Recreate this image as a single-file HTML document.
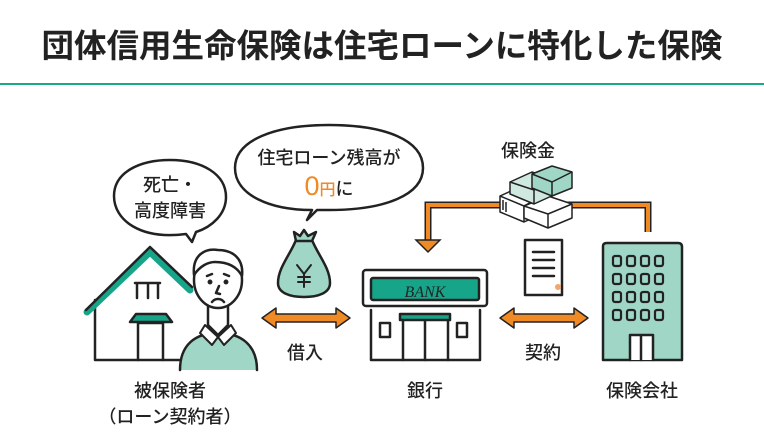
<!DOCTYPE html>
<html><head><meta charset="utf-8"><style>
html,body{margin:0;padding:0;background:#fff;}
svg{display:block;}
text{font-family:"Liberation Sans","Noto Sans CJK JP",sans-serif;fill:#222;}
</style></head><body>
<svg width="764" height="442" viewBox="0 0 764 442" xmlns="http://www.w3.org/2000/svg">
<text x="382" y="57" font-size="32.5" font-weight="bold" text-anchor="middle">団体信用生命保険は住宅ローンに特化した保険</text>
<rect x="0" y="83" width="764" height="2" fill="#1aa88a"/>

<g stroke="#222" stroke-width="2.5" fill="none" stroke-linecap="round" stroke-linejoin="round">
<path d="M95 300 V360 H185"/>
<path d="M87 312 L150 252 L190 290" stroke="#17a58a" stroke-width="7"/>
<path d="M86 310 L150 247 L192 287"/>
<path d="M135 283 H160 M137 283 V298 M158 283 V298 M148 283 V298"/>
<path d="M138 323 V360 M163 323 V360 M138 323 H163"/>
<path d="M130 322 L136 314 H166 L172 322 Z" fill="#17a58a"/>
<path d="M180 370 C180 345 195 333 218 333 C241 333 257 345 257 370" fill="#9fd6c6"/>
<path d="M208 305 V325 L218 335 L228 325 V305" fill="#fff"/>
<path d="M205 325 L218 337 L212 345 L200 333 Z M231 325 L218 337 L224 345 L236 333 Z" fill="#fff" stroke-width="2"/>
<ellipse cx="218" cy="280" rx="24" ry="28" fill="#fff"/>
<path d="M194 275 C192 255 205 248 218 250 C232 250 244 258 242 276 C236 265 225 262 215 262 C208 262 200 266 194 275Z" fill="#fff"/>
<path d="M207 276 L212 274 M224 274 L229 276"/>
<circle cx="210" cy="282" r="1.2" fill="#222"/><circle cx="226" cy="282" r="1.2" fill="#222"/>
<path d="M219 286 L216 293 L220 294"/>
<path d="M212 302 C215 298 221 298 224 302"/>
<path d="M186 234 C140 240 114 220 114 196 C114 172 140 160 170 160 C202 160 226 174 226 197 C226 214 212 227 196 232 L192 242 L186 234 Z" fill="#fff"/>
<path d="M312 210 C270 210 235 195 235 168 C235 140 275 125 329 125 C385 125 423 140 423 168 C423 195 385 210 329 210 L317 210 L307 220 L312 210Z" fill="#fff"/>
<path d="M296 240 C290 255 278 268 278 283 C278 293 290 297 304 297 C318 297 330 293 330 283 C330 268 318 255 312 240 Z" fill="#9fd6c6"/>
<path d="M294 232 L300 236 L304 230 L308 236 L316 232 L312 241 H296 Z" fill="#9fd6c6"/>
<path d="M297 265 L304 274 L311 265 M304 274 V287 M298 277 H310 M298 282 H310" stroke-width="2"/>
<rect x="363" y="270" width="124" height="36" rx="3" fill="#fff"/>
<rect x="371" y="278" width="108" height="22" rx="2" fill="#17a58a"/>
<path d="M371 310 V360 H480 V310"/>
<rect x="380" y="323" width="10" height="14"/><rect x="457" y="323" width="10" height="14"/>
<path d="M403 360 V318 H448 V360 M425 318 V360"/>
<rect x="400" y="314" width="50" height="6" fill="#17a58a"/>
<path d="M603 360 V246 Q603 243 607 243 H678 Q682 243 682 247 V360 Z" fill="#9fd6c6"/>
<path d="M630 360 V335 H653 V360 M641 335 V360" fill="#fff"/>
<path d="M525 240 H562 V295 H525 Z" fill="#fff"/>
<path d="M533 252 H554 M533 260 H554 M533 268 H554 M533 276 H554"/>
</g>
<g fill="none" stroke="#222" stroke-width="2.2">
<g id="row">
<rect x="613" y="256" width="8" height="10" rx="2"/><rect x="627" y="256" width="8" height="10" rx="2"/><rect x="641" y="256" width="8" height="10" rx="2"/><rect x="655" y="256" width="8" height="10" rx="2"/>
</g>
<use href="#row" y="18"/><use href="#row" y="36"/><use href="#row" y="54"/>
</g>
<circle cx="558" cy="287" r="3" fill="#f5a56a"/>
<text x="425" y="297" font-size="16" font-style="italic" text-anchor="middle" style="font-family:'Liberation Serif',serif;">BANK</text>

<g fill="#f08a24" stroke="#222" stroke-width="1.5" stroke-linejoin="round">
<path d="M262 318 L276 308 V314 H336 V308 L350 318 L336 328 V322 H276 V328 Z"/>
<path d="M500 318 L514 308 V314 H574 V308 L588 318 L574 328 V322 H514 V328 Z"/>
</g>
<path d="M648 232 V205 H428 V242" fill="none" stroke="#222" stroke-width="7" stroke-linejoin="miter"/>
<path d="M648 232 V205 H428 V242" fill="none" stroke="#f08a24" stroke-width="4" stroke-linejoin="miter"/>
<path d="M416 240 H440 L428 252 Z" fill="#f08a24" stroke="#222" stroke-width="1.5"/>
<g stroke="#222" stroke-width="1.5" fill="#cfe9e1" stroke-linejoin="round">
<path d="M500 196 L522 186 L546 194 V212 L524 222 L500 212 Z" fill="#fff"/>
<path d="M500 196 L524 206 L546 194 M524 206 V222 M503 200 V210 M506 202 V212 M528 204 V218" fill="none"/>
<path d="M524 206 L548 196 L572 204 V218 L548 228 L524 218 Z" fill="#fff"/>
<path d="M524 206 L548 214 L572 204 M548 214 V228" fill="none"/>
<path d="M510 182 L532 172 L556 180 V194 L534 204 L510 194 Z"/>
<path d="M510 182 L534 190 L556 180 M534 190 V204" fill="none"/>
<path d="M532 174 L552 166 L572 172 V188 L552 196 L532 188 Z" fill="#9fd6c6"/>
<path d="M532 174 L552 182 L572 172 M552 182 V196" fill="none"/>
</g>

<g font-size="18" font-weight="500">
<text x="170" y="191" text-anchor="middle">死亡・</text>
<text x="170" y="217" text-anchor="middle">高度障害</text>
<text x="329" y="164" text-anchor="middle">住宅ローン残高が</text>
<text x="329" y="195" text-anchor="middle"><tspan style="fill:#f08a24" font-size="27">0</tspan><tspan style="fill:#f08a24" font-size="16">円</tspan>に</text>
<text x="528" y="157" text-anchor="middle">保険金</text>
<text x="305" y="359" text-anchor="middle">借入</text>
<text x="543" y="359" text-anchor="middle">契約</text>
<text x="170" y="397" text-anchor="middle">被保険者</text>
<text x="170" y="423" text-anchor="middle">（ローン契約者）</text>
<text x="425" y="397" text-anchor="middle">銀行</text>
<text x="642" y="397" text-anchor="middle">保険会社</text>
</g>
</svg>
</body></html>
